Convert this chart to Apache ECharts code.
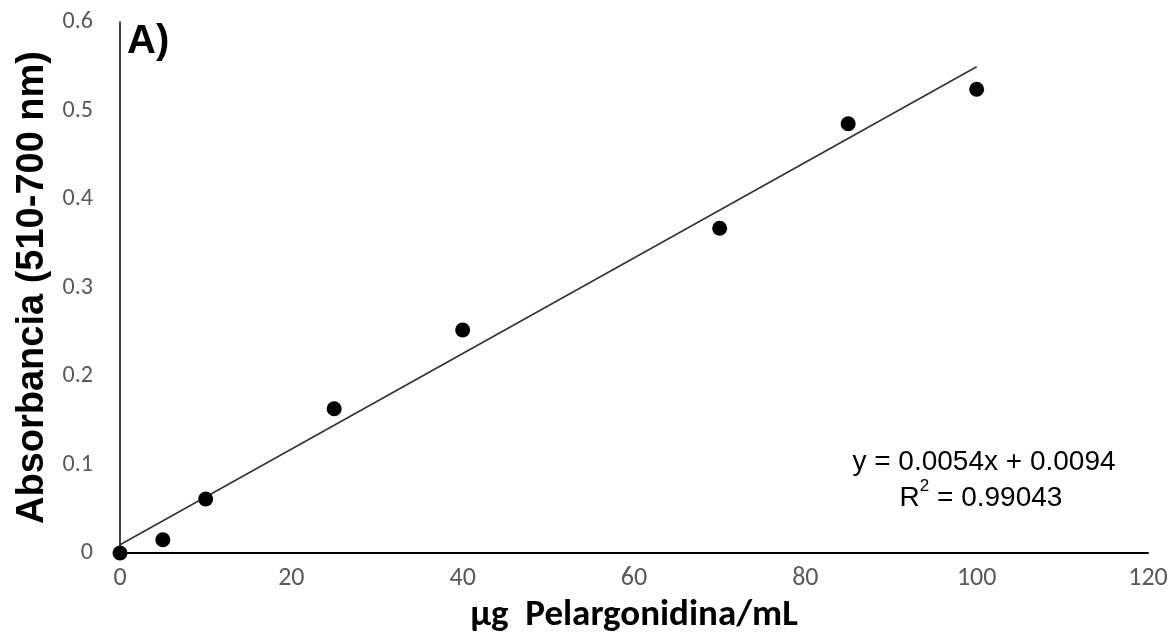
<!DOCTYPE html>
<html>
<head>
<meta charset="utf-8">
<script src="https://cdn.jsdelivr.net/npm/echarts@6/dist/echarts.min.js"></script>
<style>
  html, body { margin: 0; padding: 0; background: #fff; }
  #chart { width: 1174px; height: 636px; }
</style>
</head>
<body>
<div id="chart"></div>
<script>
// Calibration standards: pelargonidin concentration (µg/mL) vs absorbance (510-700 nm)
const concentrations = [0, 5, 10, 25, 40, 70, 85, 100];
const absorbances = [0.0, 0.015, 0.061, 0.163, 0.252, 0.367, 0.485, 0.524];

// Linear fit reported for the calibration curve
const slope = 0.0054;
const intercept = 0.0094;
const fitRange = [0, 100];
const equationText = 'y = 0.0054x + 0.0094';
const r2Text = '0.99043';

const chart = echarts.init(document.getElementById('chart'), null, { renderer: 'canvas' });

const calibri = 'Carlito, Lato, "Open Sans", sans-serif';
const arial = '"Liberation Sans", Arial, sans-serif';

chart.setOption({
  animation: false,
  grid: { left: 120, right: 26, top: 22, bottom: 83, containLabel: false, outerBoundsMode: 'none' },
  xAxis: {
    type: 'value', min: 0, max: 120, interval: 20,
    axisLine: { show: true, onZero: false, lineStyle: { color: '#000', width: 2 } },
    axisTick: { show: false },
    splitLine: { show: false },
    axisLabel: { margin: 12, color: '#595959', fontSize: 26, fontFamily: calibri },
    name: 'µg  Pelargonidina/mL',
    nameLocation: 'middle', nameGap: 44,
    nameTextStyle: { color: '#000', fontSize: 37, fontWeight: 'bold', fontFamily: calibri }
  },
  yAxis: {
    type: 'value', min: 0, max: 0.6, interval: 0.1,
    axisLine: { show: true, lineStyle: { color: '#000', width: 1.5 } },
    axisTick: { show: false },
    splitLine: { show: false },
    axisLabel: {
      margin: 27, color: '#595959', fontSize: 24, fontFamily: calibri,
      formatter: v => (v === 0 ? '0' : v.toFixed(1))
    },
    name: 'Absorbancia (510-700 nm)',
    nameLocation: 'middle', nameGap: 68,
    nameTextStyle: { color: '#000', fontSize: 38, fontWeight: 'bold', fontFamily: arial }
  },
  series: [
    {
      type: 'line',
      data: fitRange.map(x => [x, slope * x + intercept]),
      showSymbol: false,
      symbol: 'none',
      lineStyle: { color: '#333', width: 1.6 },
      z: 2
    },
    {
      type: 'scatter',
      data: concentrations.map((x, i) => [x, absorbances[i]]),
      symbol: 'circle',
      symbolSize: 15,
      itemStyle: { color: '#000', opacity: 1 },
      z: 3
    }
  ],
  graphic: [
    {
      type: 'text', left: 127, top: 22,
      style: { text: 'A)', fill: '#000', font: 'bold 40px ' + arial }
    },
    {
      type: 'text', x: 984, y: 448,
      style: { text: equationText, fill: '#000', font: '28px ' + arial, align: 'center' }
    },
    {
      type: 'text', x: 981, y: 478,
      style: {
        text: '{r|R}{s|2}{r| = ' + r2Text + '}',
        align: 'center',
        rich: {
          r: { fill: '#000', font: '28px ' + arial, verticalAlign: 'bottom', lineHeight: 34 },
          s: { fill: '#000', font: '17px ' + arial, verticalAlign: 'top', lineHeight: 34 }
        }
      }
    }
  ]
});
</script>
</body>
</html>
